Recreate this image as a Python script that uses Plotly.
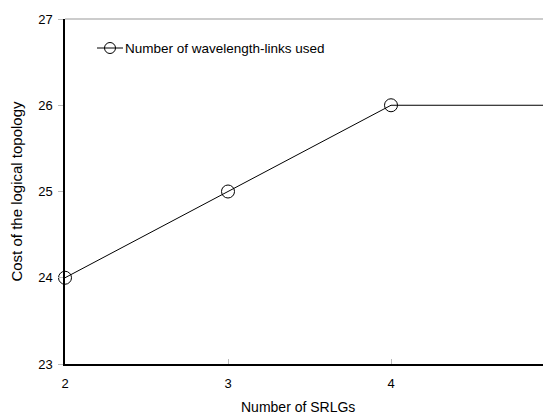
import plotly.graph_objects as go

srlgs = [2, 3, 4, 5]
cost = [24, 25, 26, 26]
series_name = "Number of wavelength-links used"
x_ticks = [2, 3, 4]
y_ticks = [23, 24, 25, 26, 27]

# page has an 8px body margin; figure coordinates are page coordinates minus 8
W, H = 543, 409
L, R, T, B = 57, 0, 11, 53
PW, PH = W - L - R, H - T - B
font = "Liberation Sans Narrow, Arial Narrow, Liberation Sans, Arial, sans-serif"


def px(x):
    return (x - L) / PW


def py(y):
    return (H - B - y) / PH


fig = go.Figure()
fig.add_trace(go.Scatter(
    x=srlgs, y=cost, mode="lines+markers", name=series_name,
    line=dict(color="black", width=1),
    marker=dict(symbol="circle-open", size=13, color="black", line=dict(width=1)),
    cliponaxis=False, showlegend=False,
))

# legend sample
fig.add_shape(type="line", xref="paper", yref="paper",
              x0=px(89), x1=px(115), y0=py(40), y1=py(40),
              line=dict(color="black", width=1))
fig.add_shape(type="circle", xref="paper", yref="paper",
              x0=px(96.5), x1=px(107.5), y0=py(45.5), y1=py(34.5),
              line=dict(color="black", width=1))
fig.add_annotation(xref="paper", yref="paper", x=px(115),
                   y=py(40), xanchor="left", yanchor="middle",
                   text=series_name, showarrow=False,
                   font=dict(family=font, size=13.5, color="black"))
# tick label "5" sits at the clipped right edge
fig.add_annotation(xref="paper", yref="paper", x=px(546), y=0, yshift=-19,
                   xanchor="center", yanchor="middle",
                   text="5", showarrow=False,
                   font=dict(family=font, size=13, color="black"))
# x-axis title placed near the bottom edge like the reference
fig.add_annotation(xref="paper", yref="paper", x=px(290), y=0, yshift=-43,
                   xanchor="center", yanchor="middle",
                   text="Number of SRLGs", showarrow=False,
                   font=dict(family=font, size=14, color="black"))

fig.update_layout(
    width=W, height=H, margin=dict(l=L, r=R, t=T, b=B),
    paper_bgcolor="white", plot_bgcolor="white",
    font=dict(family=font, size=13, color="black"),
    xaxis=dict(range=[2, 2 + PW / 163.0], tickvals=x_ticks,
               showgrid=False, zeroline=False, showline=True, linecolor="black",
               linewidth=1.5, ticks="inside", ticklen=5, tickcolor="#bbbbbb",
               tickfont=dict(size=13), ticklabelstandoff=7),
    yaxis=dict(range=[23, 27], tickvals=y_ticks,
               showgrid=False, zeroline=False, showline=True, linecolor="black",
               linewidth=1.5, ticks="outside", ticklen=5, tickcolor="#bbbbbb",
               tickfont=dict(size=13), ticklabelstandoff=3,
               title=dict(text="Cost of the logical topology",
                          font=dict(family="Liberation Sans, Arial, sans-serif", size=15),
                          standoff=12)),
    showlegend=False,
)
fig.add_shape(type="line", xref="paper", yref="paper", x0=0, x1=1, y0=1, y1=1,
              line=dict(color="#999999", width=1))

fig.write_html("out.html")
